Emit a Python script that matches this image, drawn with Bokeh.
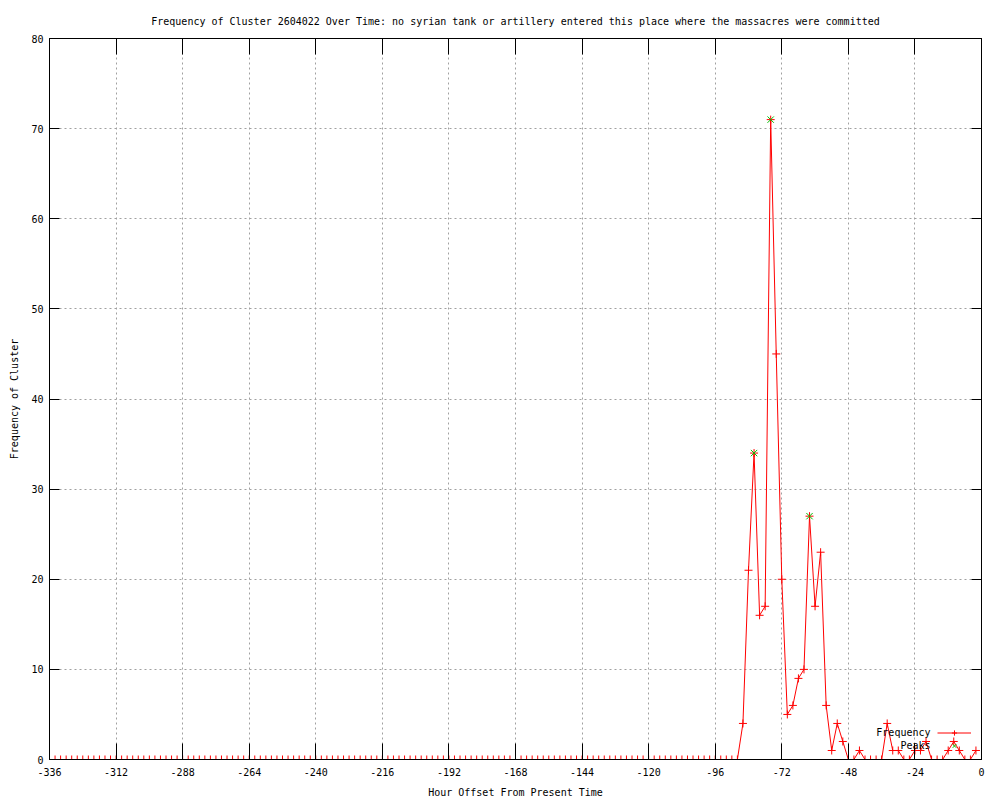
from bokeh.plotting import figure
from bokeh.models import FixedTicker, LinearAxis, Legend, LegendItem, Label, Range1d
from bokeh.embed import file_html
from bokeh.resources import INLINE

# ---- data ----
hours = [
    -336, -334, -332, -330, -328, -326, -324, -322, -320, -318, -316, -314,
    -312, -310, -308, -306, -304, -302, -300, -298, -296, -294, -292, -290,
    -288, -286, -284, -282, -280, -278, -276, -274, -272, -270, -268, -266,
    -264, -262, -260, -258, -256, -254, -252, -250, -248, -246, -244, -242,
    -240, -238, -236, -234, -232, -230, -228, -226, -224, -222, -220, -218,
    -216, -214, -212, -210, -208, -206, -204, -202, -200, -198, -196, -194,
    -192, -190, -188, -186, -184, -182, -180, -178, -176, -174, -172, -170,
    -168, -166, -164, -162, -160, -158, -156, -154, -152, -150, -148, -146,
    -144, -142, -140, -138, -136, -134, -132, -130, -128, -126, -124, -122,
    -120, -118, -116, -114, -112, -110, -108, -106, -104, -102, -100, -98,
    -96, -94, -92, -90, -88, -86, -84, -82, -80, -78, -76, -74,
    -72, -70, -68, -66, -64, -62, -60, -58, -56, -54, -52, -50,
    -48, -46, -44, -42, -40, -38, -36, -34, -32, -30, -28, -26,
    -24, -22, -20, -18, -16, -14, -12, -10, -8, -6, -4, -2,
]
frequency = [
    0, 0, 0, 0, 0, 0, 0, 0, 0, 0, 0, 0,
    0, 0, 0, 0, 0, 0, 0, 0, 0, 0, 0, 0,
    0, 0, 0, 0, 0, 0, 0, 0, 0, 0, 0, 0,
    0, 0, 0, 0, 0, 0, 0, 0, 0, 0, 0, 0,
    0, 0, 0, 0, 0, 0, 0, 0, 0, 0, 0, 0,
    0, 0, 0, 0, 0, 0, 0, 0, 0, 0, 0, 0,
    0, 0, 0, 0, 0, 0, 0, 0, 0, 0, 0, 0,
    0, 0, 0, 0, 0, 0, 0, 0, 0, 0, 0, 0,
    0, 0, 0, 0, 0, 0, 0, 0, 0, 0, 0, 0,
    0, 0, 0, 0, 0, 0, 0, 0, 0, 0, 0, 0,
    0, 0, 0, 0, 0, 4, 21, 34, 16, 17, 71, 45,
    20, 5, 6, 9, 10, 27, 17, 23, 6, 1, 4, 2,
    0, 0, 1, 0, 0, 0, 0, 4, 1, 1, 0, 0,
    1, 1, 2, 0, 0, 0, 1, 2, 1, 0, 0, 1,
]
peak_hours = [-82, -76, -62]
peak_values = [34, 71, 27]

x_ticks = [-336, -312, -288, -264, -240, -216, -192, -168, -144, -120, -96, -72, -48, -24, 0]
y_ticks = [0, 10, 20, 30, 40, 50, 60, 70, 80]

title_text = ("Frequency of Cluster 2604022 Over Time: no syrian tank or artillery "
              "entered this place where the massacres were committed")
x_label = "Hour Offset From Present Time"
y_label = "Frequency of Cluster"

FONT = "DejaVu Sans Mono"
FS = "10px"
RED = "#ff0000"
GREEN = "#00c000"

p = figure(width=1000, height=800, output_backend="svg", toolbar_location=None,
           x_range=Range1d(-336, 0), y_range=Range1d(0, 80),
           min_border_left=49, min_border_right=19, min_border_top=38, min_border_bottom=40,
           x_axis_label=x_label, y_axis_label=y_label, title=title_text)

p.background_fill_color = "white"
p.border_fill_color = "white"
p.outline_line_color = "black"
p.outline_line_width = 1

p.title.align = "center"
p.title.text_font = FONT
p.title.text_font_size = FS
p.title.text_font_style = "normal"
p.title.text_color = "black"
p.title.standoff = 24

def style_axis(ax, tick_len):
    ax.axis_line_color = "black"
    ax.major_tick_line_color = "black"
    ax.major_tick_in = tick_len
    ax.major_tick_out = 0
    ax.minor_tick_line_color = None
    ax.major_label_text_font = FONT
    ax.major_label_text_font_size = FS
    ax.major_label_text_color = "black"
    ax.axis_label_text_font = FONT
    ax.axis_label_text_font_size = FS
    ax.axis_label_text_font_style = "normal"
    ax.axis_label_text_color = "black"

xax = p.xaxis[0]
xax.ticker = FixedTicker(ticks=x_ticks)
xax.major_label_overrides = {t: str(t) for t in x_ticks}
style_axis(xax, 16)
xax.major_label_standoff = 8
xax.axis_label_standoff = 8

yax = p.yaxis[0]
yax.ticker = FixedTicker(ticks=y_ticks)
style_axis(yax, 10)
yax.major_label_standoff = 6
yax.axis_label_standoff = 8

# mirrored ticks on top and right (gnuplot style)
top = LinearAxis(ticker=FixedTicker(ticks=x_ticks))
style_axis(top, 16)
top.major_label_overrides = {t: "" for t in x_ticks}
top.major_label_standoff = 0
p.add_layout(top, "above")

right = LinearAxis(ticker=FixedTicker(ticks=y_ticks))
style_axis(right, 10)
right.major_label_overrides = {t: "" for t in y_ticks}
right.major_label_standoff = 0
p.add_layout(right, "right")

for g, t in ((p.xgrid, x_ticks), (p.ygrid, y_ticks)):
    g.ticker = FixedTicker(ticks=t)
    g.grid_line_color = "#a0a0a0"
    g.grid_line_dash = "2 3"
    g.grid_line_width = 1

ln = p.line(hours, frequency, line_color=RED, line_width=1)
pts = p.scatter(hours, frequency, marker="cross", size=8, line_color=RED, line_width=1)
pk = p.scatter(peak_hours, peak_values, marker="x", size=9, line_color=GREEN, line_width=1)

legend = Legend(items=[LegendItem(label="", renderers=[ln, pts]),
                       LegendItem(label="", renderers=[pk])],
                location=(888, 7), glyph_width=34, glyph_height=13,
                label_width=0, label_height=0, label_standoff=0,
                label_text_font=FONT, label_text_font_size=FS,
                padding=0, margin=0, spacing=0,
                border_line_color=None, background_fill_alpha=0)
p.add_layout(legend)

for txt, yy in (("Frequency", 27), ("Peaks", 14)):
    p.add_layout(Label(x=881, y=yy, x_units="screen", y_units="screen", text=txt,
                       text_align="right", text_baseline="middle", text_font=FONT,
                       text_font_size=FS, text_color="black"))

open("out.html", "w").write(file_html(p, INLINE))
